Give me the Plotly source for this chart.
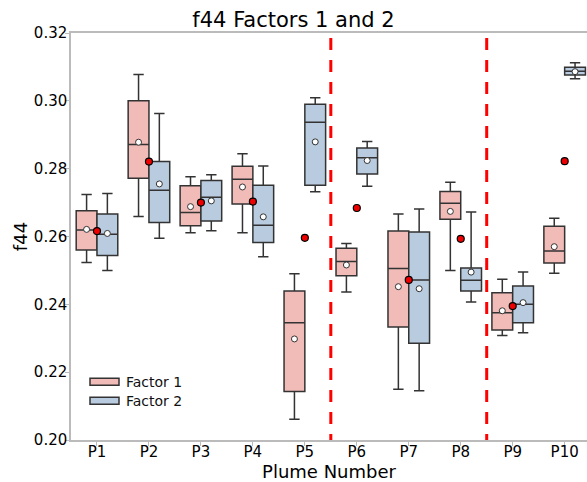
import numpy as np
import plotly.graph_objects as go

categories = ['P1', 'P2', 'P3', 'P4', 'P5', 'P6', 'P7', 'P8', 'P9', 'P10']

f1_lower = [0.2523, 0.2659, 0.2611, 0.2611, 0.2061, 0.2436, 0.2150, 0.2500, 0.2308, 0.2492]
f1_q1 = [0.2560, 0.2772, 0.2632, 0.2696, 0.2143, 0.2484, 0.2333, 0.2651, 0.2324, 0.2522]
f1_median = [0.2619, 0.2871, 0.2671, 0.2769, 0.2346, 0.2526, 0.2506, 0.2698, 0.2375, 0.2557]
f1_q3 = [0.2676, 0.3000, 0.2750, 0.2807, 0.2439, 0.2565, 0.2616, 0.2733, 0.2434, 0.2630]
f1_upper = [0.2724, 0.3078, 0.2776, 0.2844, 0.2490, 0.2579, 0.2666, 0.2760, 0.2474, 0.2654]
f1_mean = [0.2621, 0.2878, 0.2688, 0.2746, 0.2298, 0.2516, 0.2452, 0.2674, 0.2381, 0.2570]

f2_lower = [0.2500, 0.2595, 0.2617, 0.2540, 0.2732, 0.2748, 0.2145, 0.2407, 0.2316, 0.3065]
f2_q1 = [0.2544, 0.2641, 0.2646, 0.2582, 0.2751, 0.2784, 0.2285, 0.2439, 0.2346, 0.3076]
f2_median = [0.2607, 0.2736, 0.2716, 0.2633, 0.2937, 0.2832, 0.2472, 0.2471, 0.2400, 0.3087]
f2_q3 = [0.2666, 0.2821, 0.2765, 0.2751, 0.2990, 0.2861, 0.2613, 0.2507, 0.2454, 0.3099]
f2_upper = [0.2727, 0.2963, 0.2782, 0.2808, 0.3009, 0.2880, 0.2681, 0.2672, 0.2495, 0.3112]
f2_mean = [0.2609, 0.2755, 0.2705, 0.2658, 0.2879, 0.2824, 0.2446, 0.2495, 0.2405, 0.3086]

reference_values = [0.2616, 0.2821, 0.2700, 0.2703, 0.2596, 0.2684, 0.2472, 0.2593, 0.2395, 0.2822]

group_separators = [4.5, 7.5]
legend_names = ['Factor 1', 'Factor 2']

FONT = "DejaVu Sans"
PINK = "#f1bbb8"
BLUE = "#b8cbdf"
EDGE = "#333333"
FRAME = "#bbbbbb"

W, H = 587, 482
ML, MR, MT, MB = 71, 0, 33, 42
PW, PH = W - ML - MR, H - MT - MB

idx = np.arange(len(categories))
off = 0.2
bw = 0.4

fig = go.Figure()

for pos, lo, q1, med, q3, hi, col in [
    (idx - off, f1_lower, f1_q1, f1_median, f1_q3, f1_upper, PINK),
    (idx + off, f2_lower, f2_q1, f2_median, f2_q3, f2_upper, BLUE),
]:
    fig.add_trace(go.Box(
        x=pos, q1=q1, median=med, q3=q3, lowerfence=lo, upperfence=hi,
        width=bw, whiskerwidth=0.5, fillcolor=col,
        line=dict(color=EDGE, width=1.5), showlegend=False, hoverinfo='skip',
    ))

for pos, mean in [(idx - off, f1_mean), (idx + off, f2_mean)]:
    fig.add_trace(go.Scatter(
        x=pos, y=mean, mode='markers', showlegend=False,
        marker=dict(color='white', size=6, line=dict(color=EDGE, width=1)),
    ))

fig.add_trace(go.Scatter(
    x=idx, y=reference_values, mode='markers', showlegend=False,
    marker=dict(color='#ee0000', size=7, line=dict(color='black', width=1.2)),
))

for s in group_separators:
    fig.add_shape(type='line', xref='x', yref='y', x0=s, x1=s, y0=0.3185, y1=0.20,
                  line=dict(color='#ff0000', width=3, dash='12px,10px'))

# manual legend (paper coordinates)
def px_x(p):
    return (p - ML) / PW

def px_y(p):
    return (H - MB - p) / PH

for i, (name, col) in enumerate(zip(legend_names, [PINK, BLUE])):
    cy = 381.7 + 19 * i
    fig.add_shape(type='rect', xref='paper', yref='paper',
                  x0=px_x(90), x1=px_x(119), y0=px_y(cy + 3.5), y1=px_y(cy - 3.5),
                  fillcolor=col, line=dict(color=EDGE, width=1.5))
    fig.add_annotation(xref='paper', yref='paper', x=px_x(124), y=px_y(cy),
                       xanchor='left', yanchor='middle', text=name, showarrow=False,
                       font=dict(size=14, family=FONT, color='#111'))

fig.update_layout(
    width=W, height=H,
    margin=dict(l=ML, r=MR, t=MT, b=MB, autoexpand=False),
    paper_bgcolor='white', plot_bgcolor='white',
    font=dict(family=FONT, color='black', size=15),
    title=dict(text='f44 Factors 1 and 2', x=0.5, xanchor='center', y=1 - 20 / H,
               yanchor='middle', font=dict(size=21, family=FONT, color='black')),
    showlegend=False,
)
fig.update_xaxes(
    range=[-0.5, 9.43], tickvals=idx, ticktext=categories, automargin=False,
    showline=True, linecolor=FRAME, linewidth=1.5, mirror=True,
    ticks='outside', ticklen=4, tickcolor=FRAME, showgrid=False, zeroline=False,
    ticklabelstandoff=-7,
    tickfont=dict(size=15), title=dict(text='Plume Number', font=dict(size=18), standoff=0),
)
fig.update_yaxes(
    range=[0.20, 0.32], dtick=0.02, tickformat='.2f', automargin=False,
    showline=True, linecolor=FRAME, linewidth=1.5, mirror=False,
    ticks='outside', ticklen=4, tickcolor=FRAME, showgrid=False, zeroline=False,
    ticklabelstandoff=-5,
    tickfont=dict(size=15), title=dict(text='f44', font=dict(size=18), standoff=2),
)

fig.write_html("out.html", config={'displayModeBar': False},
               post_script="document.body.style.margin='0';document.body.style.padding='0';")
